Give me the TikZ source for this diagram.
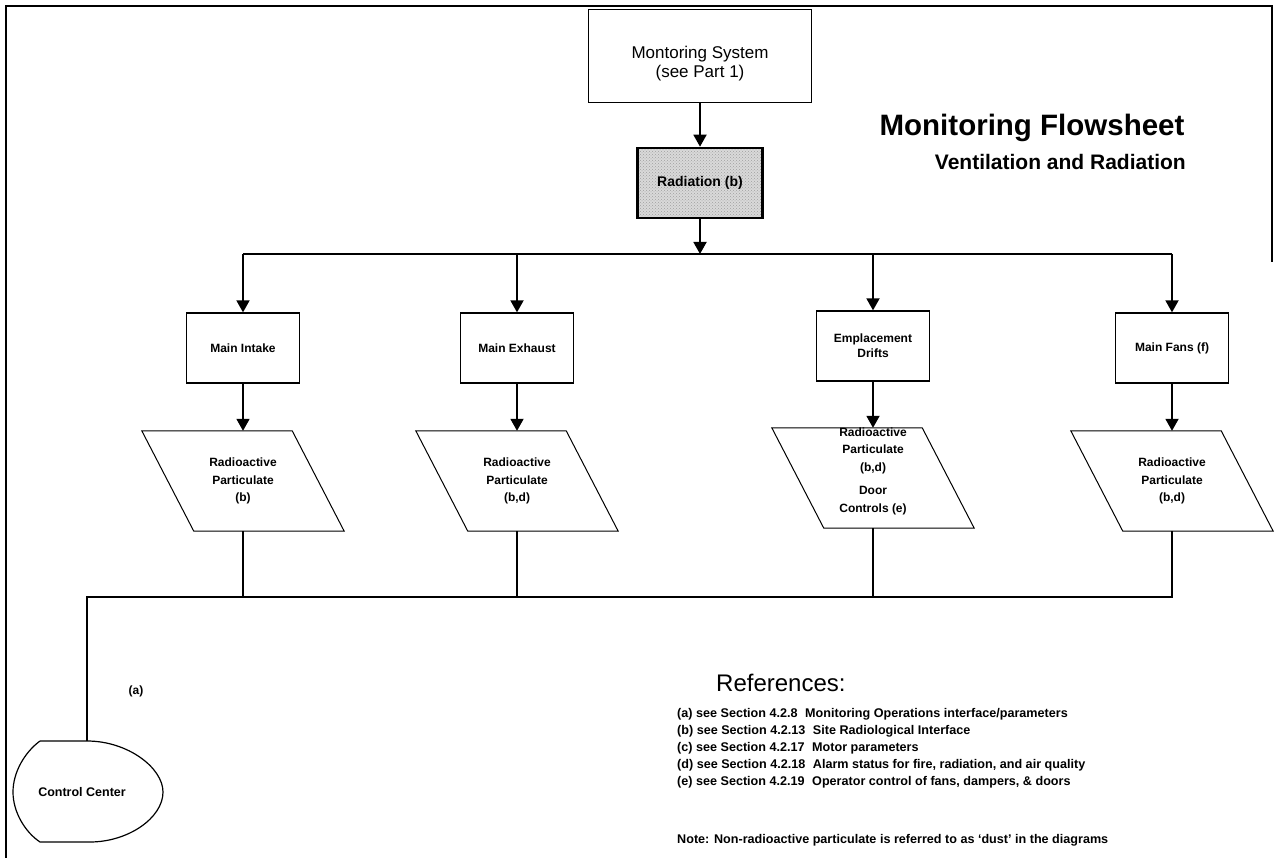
\documentclass[tikz,border=0pt]{standalone}
\usepackage{fontspec}
\setmainfont{Liberation Sans}
\usetikzlibrary{arrows.meta,patterns,calc}
\newcommand\fz[2]{\fontsize{#1}{#2}\selectfont}
\begin{document}
\begin{tikzpicture}[x=1pt,y=-1pt,
  box/.style={draw, line width=1.3pt, minimum width=113pt, minimum height=70pt, inner sep=0pt, align=center, font=\fz{12}{15}\bfseries},
  para/.style={minimum width=150pt, minimum height=100pt, inner sep=0pt, align=center, font=\fz{12}{17.5}\bfseries},
  ptext/.style={align=center, inner sep=0pt, font=\fz{12}{17.5}\bfseries},
  pline/.style={line width=1pt},
  arr/.style={line width=1.8pt, -{Triangle[width=13pt,length=12pt]}},
  bus/.style={line width=1.6pt},
  frame/.style={line width=1.8pt},
  reftext/.style={anchor=west, inner sep=0pt, font=\fz{12.6}{15}\bfseries}]
\useasboundingbox (0,0) rectangle (1277,858);
\draw[frame] (6,858) -- (6,6) -- (1272,6) -- (1272,262);

% title
\node[inner sep=0pt, font=\fz{29.5}{32}\bfseries] (title) at (1032,128) {Monitoring Flowsheet};
\node[inner sep=0pt, anchor=east, font=\fz{21}{23}\bfseries] (sub) at (1186,162) {Ventilation and Radiation};

% top boxes
\node[draw, line width=1.3pt, minimum width=223pt, minimum height=93pt] (mon) at (700,56) {};
\node[align=center, inner sep=0pt, font=\fz{17}{19}] (montxt) at (700,64) {Montoring System\\(see Part 1)};
\node[draw, line width=2.6pt, minimum width=125pt, minimum height=70pt, font=\fz{14}{16}\bfseries,
  preaction={fill=gray!30}, pattern=crosshatch dots, pattern color=gray!75] (rad) at (700,183) {Radiation (b)};
\coordinate (b1) at (700,254);
\draw[arr] (mon) -- (rad);
\draw[arr] (rad) -- (b1);

% second row
\node[box] (i1) at (243,348) {Main Intake};
\node[box] (e1) at (517,348) {Main Exhaust};
\node[box] (d1) at (873,346) {Emplacement\\Drifts};
\node[box] (f1) at (1172,348) {Main Fans (f)};

\draw[bus] (i1.north |- b1) -- (f1.north |- b1);
\foreach \n in {i1,e1,d1,f1} \draw[arr] (\n.north |- b1) -- (\n.north);

% parallelograms
\node[para] (i2) at (243,481) {Radioactive\\Particulate\\(b)};
\node[para] (e2) at (517,481) {Radioactive\\Particulate\\(b,d)};
\node[para] (d2) at (873,478) {};
\node[para] (f2) at (1172,481) {Radioactive\\Particulate\\(b,d)};
\node[ptext] (d2t) at (873,471) {Radioactive\\Particulate\\(b,d)\\[6pt]Door\\Controls (e)};
\foreach \n in {i2,e2,d2,f2}
  \draw[pline] ([xshift=-26pt]\n.north west) -- ([xshift=-26pt]\n.north east)
     -- ([xshift=26pt]\n.south east) -- ([xshift=26pt]\n.south west) -- cycle;
\foreach \a/\b in {i1/i2,e1/e2,d1/d2,f1/f2} \draw[arr] (\a.south) -- (\b.north);

% bottom bus
\coordinate (b2) at (87,597);
\coordinate (cctop) at (87,741);
\foreach \n in {i2,e2,d2} \draw[bus] (\n.south) -- (\n.south |- b2);
\draw[bus] (f2.south) |- (b2) -- (cctop);

% control center
\draw[line width=1.2pt] (40,741) -- (cctop) .. controls (128,741) and (163,768) .. (163,792)
  .. controls (163,818) and (128,842) .. (90,842) -- (40,842)
  .. controls (25,832) and (13,812) .. (13,792) .. controls (13,772) and (25,752) .. (40,741);
\node[inner sep=0pt, font=\fz{12.5}{15}\bfseries] (cc) at (82,792) {Control Center};
\node[inner sep=0pt, font=\fz{12}{15}\bfseries] (la) at (136,691) {(a)};

% references
\node[inner sep=0pt, anchor=west, font=\fz{24}{26}] (refs) at (716,683) {References:};
\node[reftext] (ra) at (677,714) {(a) see Section 4.2.8\hspace{0.6em}Monitoring Operations interface/parameters};
\node[reftext] (rb) at (677,731) {(b) see Section 4.2.13\hspace{0.6em}Site Radiological Interface};
\node[reftext] (rc) at (677,748) {(c) see Section 4.2.17\hspace{0.6em}Motor parameters};
\node[reftext] (rd) at (677,765) {(d) see Section 4.2.18\hspace{0.6em}Alarm status for fire, radiation, and air quality};
\node[reftext] (re) at (677,782) {(e) see Section 4.2.19\hspace{0.6em}Operator control of fans, dampers, \& doors};
\node[reftext] (note) at (677,840) {Note: Non-radioactive particulate is referred to as `dust' in the diagrams};
\end{tikzpicture}
\end{document}
